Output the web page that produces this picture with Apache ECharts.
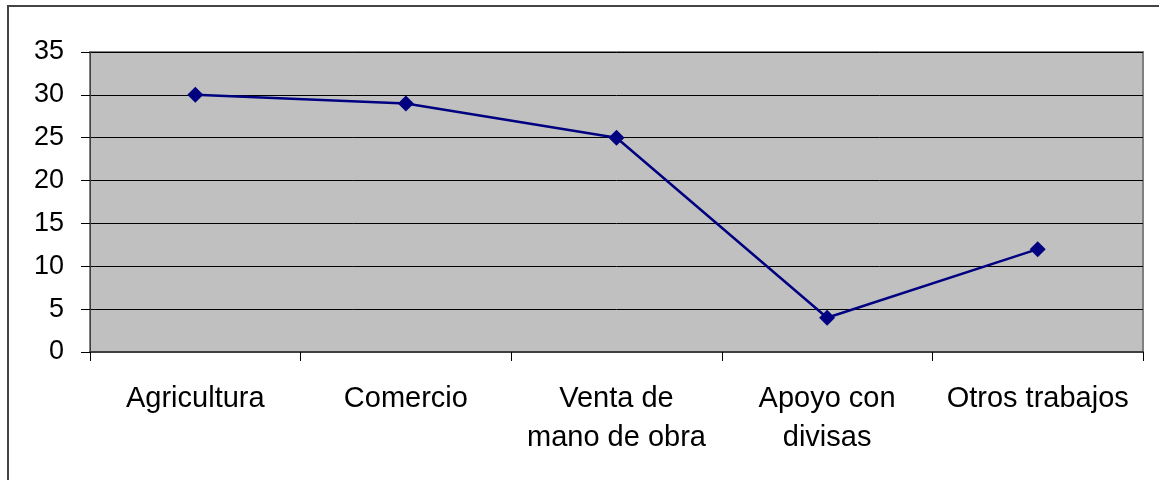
<!DOCTYPE html>
<html>
<head>
<meta charset="utf-8">
<script src="https://cdn.jsdelivr.net/npm/echarts@6/dist/echarts.min.js"></script>
<style>
  html, body { margin: 0; padding: 0; background: #fff; }
  .frame {
    position: absolute; left: 7px; top: 5px; width: 1200px; height: 520px;
    border-left: 2px solid #444; border-top: 2px solid #444;
  }
  #chart { position: absolute; left: 0; top: 0; width: 1159px; height: 480px; }
</style>
</head>
<body>
<div class="frame"></div>
<div id="chart"></div>
<script>
// categorías y valores
const categories = ['Agricultura', 'Comercio', 'Venta de\nmano de obra', 'Apoyo con\ndivisas', 'Otros trabajos']
const values = [30, 29, 25, 4, 12]
const yTicks = { min: 0, max: 35, interval: 5 }

const chart = echarts.init(document.getElementById('chart'))

const option = {
  animation: false,
  grid: {
    left: 90,
    top: 52,
    right: 16,
    bottom: 128,
    show: true,
    backgroundColor: '#C0C0C0',
    borderColor: '#808080',
    borderWidth: 2
  },
  xAxis: {
    type: 'category',
    boundaryGap: true,
    data: categories,
    axisLine: { show: true, lineStyle: { color: '#404040', width: 2 } },
    axisTick: { show: true, interval: 0, length: 9, lineStyle: { color: '#000', width: 1 } },
    axisLabel: {
      interval: 0,
      hideOverlap: false,
      margin: 27,
      fontFamily: 'Liberation Sans, Arial, sans-serif',
      fontSize: 29,
      lineHeight: 39,
      color: '#000'
    },
    splitLine: { show: false }
  },
  yAxis: {
    type: 'value',
    min: yTicks.min,
    max: yTicks.max,
    interval: yTicks.interval,
    axisLine: { show: true, lineStyle: { color: '#404040', width: 1 } },
    axisTick: { show: true, length: 9, lineStyle: { color: '#000', width: 1 } },
    axisLabel: {
      margin: 26,
      fontFamily: 'Liberation Sans, Arial, sans-serif',
      fontSize: 27,
      color: '#000'
    },
    splitLine: { show: true, lineStyle: { color: '#000', width: 1 } }
  },
  series: [
    {
      type: 'line',
      data: values,
      symbol: 'diamond',
      symbolSize: 16,
      lineStyle: { color: '#000080', width: 2.5 },
      itemStyle: { color: '#000080' }
    }
  ]
}

chart.setOption(option)
</script>
</body>
</html>
